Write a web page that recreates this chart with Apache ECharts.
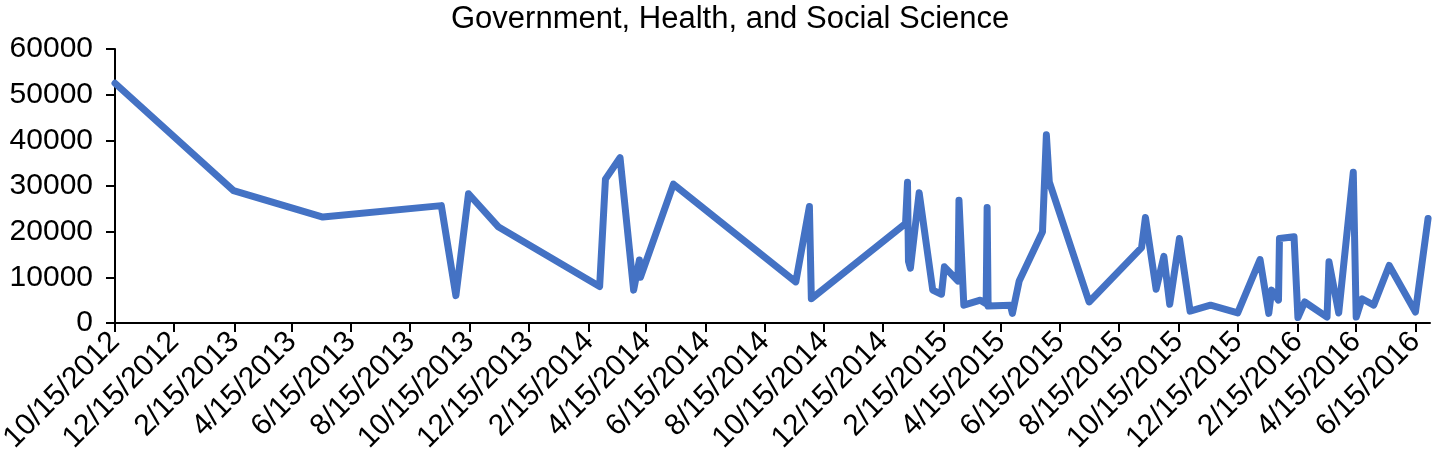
<!DOCTYPE html>
<html>
<head>
<meta charset="utf-8">
<script src="https://cdn.jsdelivr.net/npm/echarts@6/dist/echarts.min.js"></script>
<style>
html,body{margin:0;padding:0;background:#fff;}
#chart{width:1433px;height:473px;}
</style>
</head>
<body>
<div id="chart"></div>
<script>
const chartTitle = "Government, Health, and Social Science";
const dates = [
  "2012-10-15","2013-02-14","2013-05-17","2013-09-16","2013-10-01","2013-10-14","2013-11-14",
  "2014-02-26","2014-03-04","2014-03-19","2014-04-02","2014-04-08","2014-04-09","2014-05-13",
  "2014-09-16","2014-09-30","2014-10-02","2015-01-07","2015-01-09","2015-01-10","2015-01-12",
  "2015-01-21","2015-02-04","2015-02-13","2015-02-16","2015-03-02","2015-03-03","2015-03-08",
  "2015-03-25","2015-03-31","2015-04-01","2015-04-02","2015-04-25","2015-04-27","2015-05-04",
  "2015-05-28","2015-06-01","2015-06-04","2015-07-15","2015-09-07","2015-09-11","2015-09-22",
  "2015-09-30","2015-10-06","2015-10-16","2015-10-27","2015-11-17","2015-12-15","2016-01-07",
  "2016-01-16","2016-01-19","2016-01-26","2016-01-27","2016-02-11","2016-02-15","2016-02-22",
  "2016-03-16","2016-03-18","2016-03-28","2016-04-12","2016-04-15","2016-04-21","2016-05-03",
  "2016-05-19","2016-06-15","2016-06-28"
];
const values = [
  52500,29000,23200,25700,6000,28300,21000,
  8000,31500,36200,7200,13800,10000,30400,
  9000,25500,5300,21800,30800,13500,12000,
  28500,7200,6300,12300,9200,26900,3900,
  5000,4200,25300,3700,3900,2100,9200,
  20000,41200,30900,4600,16500,23100,7400,
  14600,4100,18500,2600,3900,2200,13900,
  2100,7200,5000,18500,18900,1200,4600,
  1300,13400,2200,33000,1300,5300,3900,
  12600,2400,22900
];
const xTickDates = [
  "2012-10-15","2012-12-15","2013-02-15","2013-04-15","2013-06-15","2013-08-15",
  "2013-10-15","2013-12-15","2014-02-15","2014-04-15","2014-06-15","2014-08-15",
  "2014-10-15","2014-12-15","2015-02-15","2015-04-15","2015-06-15","2015-08-15",
  "2015-10-15","2015-12-15","2016-02-15","2016-04-15","2016-06-15"
];
const xMinDate = "2012-10-15";
const xMaxDate = "2016-06-30";
const yTicks = [0,10000,20000,30000,40000,50000,60000];

function ts(s){ const p = s.split('-').map(Number); return Date.UTC(p[0], p[1]-1, p[2]); }
function fmt(v){ const d = new Date(v); return (d.getUTCMonth()+1) + '/' + d.getUTCDate() + '/' + d.getUTCFullYear(); }

const seriesData = dates.map((d,i) => [ts(d), values[i]]);
const tickVals = xTickDates.map(ts);
const FONT = '"Liberation Sans", Arial, sans-serif';

const chart = echarts.init(document.getElementById('chart'), null, {renderer:'canvas'});
chart.setOption({
  animation: false,
  backgroundColor: '#ffffff',
  title: {
    text: chartTitle,
    left: 446, top: -1,
    textStyle: {fontFamily: FONT, fontSize: 31, fontWeight: 'normal', color: '#000'}
  },
  grid: {left: 115, right: 3, top: 49, bottom: 150, containLabel: false, outerBoundsMode: 'none'},
  xAxis: {
    type: 'value',
    min: ts(xMinDate), max: ts(xMaxDate),
    splitLine: {show: false},
    axisLine: {show: true, lineStyle: {color: '#000', width: 2}},
    axisTick: {show: true, customValues: tickVals, length: 9, inside: false, lineStyle: {color: '#000', width: 2}},
    axisLabel: {
      customValues: tickVals, rotate: 45, margin: 14, hideOverlap: false,
      formatter: fmt, fontFamily: FONT, fontSize: 30, color: '#000'
    }
  },
  yAxis: {
    type: 'value', min: 0, max: 60000, interval: 10000,
    splitLine: {show: false},
    axisLine: {show: true, lineStyle: {color: '#000', width: 2}},
    axisTick: {show: true, length: 9, lineStyle: {color: '#000', width: 2}},
    axisLabel: {customValues: yTicks, margin: 22, fontFamily: FONT, fontSize: 30, color: '#000',
      formatter: v => String(v)}
  },
  series: [{
    type: 'line',
    data: seriesData,
    showSymbol: false,
    symbol: 'none',
    lineStyle: {color: '#4472C4', width: 7, cap: 'round', join: 'round'}
  }]
});
</script>
</body>
</html>
